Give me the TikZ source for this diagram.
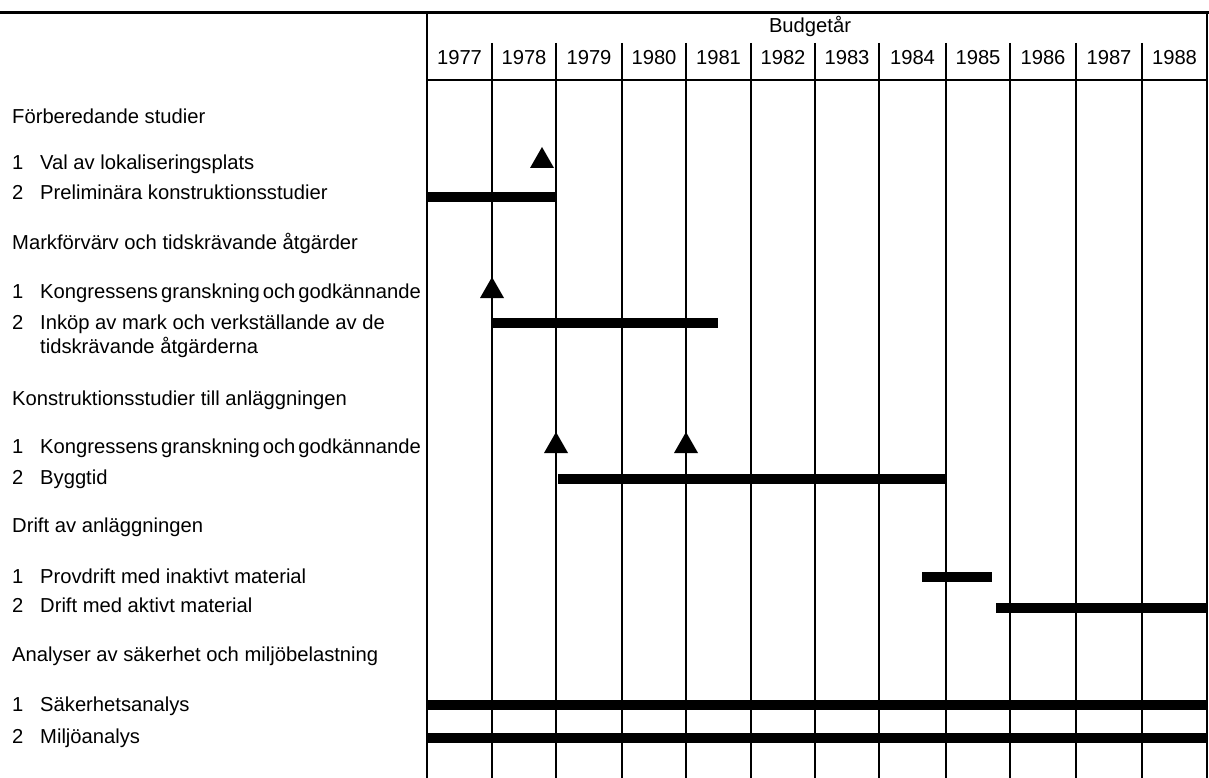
\documentclass[tikz,border=0pt]{standalone}
\usepackage{fontspec}
\setmainfont{Liberation Sans}
\begin{document}
\begin{tikzpicture}[x=1pt,y=-1pt,
  grid/.style={line width=1.8pt},
  topline/.style={line width=3pt},
  bar/.style={line width=10pt},
  txt/.style={anchor=base west,inner sep=0pt,font=\fontsize{20.2}{22}\selectfont},
  yr/.style={anchor=base,inner sep=0pt,font=\fontsize{20.2}{22}\selectfont},
  mile/.style={fill=black}]
\useasboundingbox (0,0) rectangle (1209,778);
% frame
\draw[topline] (0,13) -- (1208.5,13);
\draw[grid] (427,12) -- (427,778);
\draw[grid] (1207,12) -- (1207,778);
\draw[grid] (427,80) -- (1207,80);
\foreach \x in {492,556,622,686,751,815,879,946,1010,1076,1142}
  \draw[grid] (\x,43) -- (\x,778);
% header
\node[yr] (budget) at (810,33) {Budgetår};
\foreach \a/\b/\yy in {427/492/1977,492/556/1978,556/622/1979,622/686/1980,686/751/1981,751/815/1982,815/879/1983,879/946/1984,946/1010/1985,1010/1076/1986,1076/1142/1987,1142/1207/1988}
  \node[yr] (y\yy) at ({(\a+\b)/2},65) {\yy};
% left texts
\node[txt] (h1) at (12,124) {Förberedande studier};
\node[txt] (n11) at (12,170) {1};
\node[txt] (t11) at (40,170) {Val av lokaliseringsplats};
\node[txt] (n12) at (12,200) {2};
\node[txt] (t12) at (40,200) {Preliminära konstruktionsstudier};
\node[txt] (h2) at (12,249) {Markförvärv och tidskrävande åtgärder};
\node[txt] (n21) at (12,298) {1};
\node[txt] (t21) at (40,298) {\spaceskip=3pt plus 1pt Kongressens granskning och godkännande};
\node[txt] (n22) at (12,329) {2};
\node[txt] (t22) at (40,329) {Inköp av mark och verkställande av de};
\node[txt] (t22b) at (40,353) {tidskrävande åtgärderna};
\node[txt] (h3) at (12,405) {Konstruktionsstudier till anläggningen};
\node[txt] (n31) at (12,453) {1};
\node[txt] (t31) at (40,453) {\spaceskip=3pt plus 1pt Kongressens granskning och godkännande};
\node[txt] (n32) at (12,484) {2};
\node[txt] (t32) at (40,484) {Byggtid};
\node[txt] (h4) at (12,532) {Drift av anläggningen};
\node[txt] (n41) at (12,583) {1};
\node[txt] (t41) at (40,583) {Provdrift med inaktivt material};
\node[txt] (n42) at (12,612) {2};
\node[txt] (t42) at (40,612) {Drift med aktivt material};
\node[txt] (h5) at (12,661) {Analyser av säkerhet och miljöbelastning};
\node[txt] (n51) at (12,711) {1};
\node[txt] (t51) at (40,711) {Säkerhetsanalys};
\node[txt] (n52) at (12,743) {2};
\node[txt] (t52) at (40,743) {Miljöanalys};
% bars
\coordinate (b1s) at (427,197); \coordinate (b1e) at (556,197);
\coordinate (b2s) at (492,323); \coordinate (b2e) at (718,323);
\coordinate (b3s) at (558,479); \coordinate (b3e) at (946,479);
\coordinate (b4s) at (922,577); \coordinate (b4e) at (992,577);
\coordinate (b5s) at (996,608); \coordinate (b5e) at (1207,608);
\coordinate (b6s) at (427,705); \coordinate (b6e) at (1207,705);
\coordinate (b7s) at (427,738); \coordinate (b7e) at (1207,738);
\foreach \k in {1,...,7} \draw[bar] (b\k s) -- (b\k e);
% milestones
\coordinate (m1) at (542,168);
\coordinate (m2) at (492,298);
\coordinate (m3) at (556,453);
\coordinate (m4) at (686,453);
\foreach \k in {1,...,4}
  \fill[mile] (m\k) ++(-12,0) -- ++(24,0) -- ++(-12,-21) -- cycle;
\end{tikzpicture}
\end{document}
